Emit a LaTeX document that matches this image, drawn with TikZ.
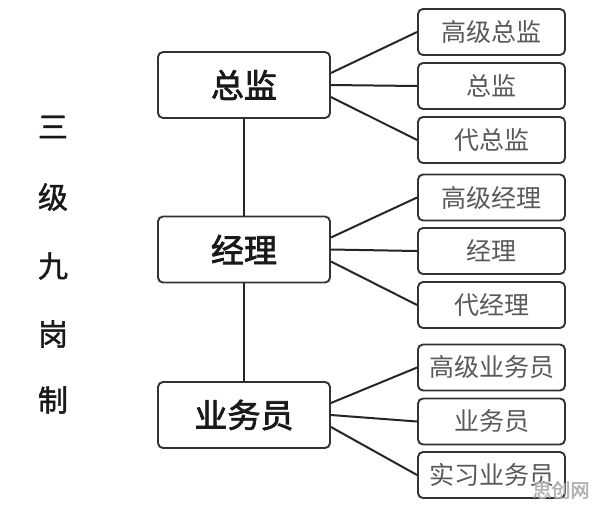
\documentclass[tikz,border=0pt]{standalone}
\usepackage{fontspec}
\newfontfamily\cjk{Noto Sans CJK SC}
\newfontfamily\cjkheavy[FakeBold=2.2]{Noto Sans CJK SC}
\newfontfamily\cjkmed[FakeBold=1.4]{Noto Sans CJK SC}
\begin{document}
\begin{tikzpicture}[x=1pt,y=-1pt,
  mainbox/.style={draw=black!80,line width=1.9pt,rounded corners=5pt,minimum width=172pt,minimum height=66pt,inner sep=0pt,font=\cjkheavy\fontsize{33}{36}\selectfont,text=black!90},
  subbox/.style={draw=black!80,line width=1.9pt,rounded corners=5pt,minimum width=147pt,minimum height=46pt,inner sep=0pt,text=black!65,font=\cjk\fontsize{25}{28}\selectfont},
  link/.style={line width=2pt,black!85},
  sidechar/.style={font=\cjkmed\fontsize{30}{32}\selectfont,text=black!90}]
\useasboundingbox (0,0) rectangle (596,507);
\fill[white] (0,0) rectangle (596,507);
% side title
\node[sidechar] (t1) at (53,127) {三};
\node[sidechar] (t2) at (53,197) {级};
\node[sidechar] (t3) at (53,266) {九};
\node[sidechar] (t4) at (53,334) {岗};
\node[sidechar] (t5) at (53,400) {制};
% main boxes
\node[mainbox] (m1) at (244,85) {总监};
\node[mainbox] (m2) at (244,249.5) {经理};
\node[mainbox] (m3) at (244,415) {业务员};
% sub boxes
\node[subbox] (a1) at (491.5,32) {高级总监};
\node[subbox] (a2) at (491.5,86) {总监};
\node[subbox] (a3) at (491.5,140) {代总监};
\node[subbox] (b1) at (491.5,197.5) {高级经理};
\node[subbox] (b2) at (491.5,251) {经理};
\node[subbox] (b3) at (491.5,305) {代经理};
\node[subbox] (c1) at (491.5,367.5) {高级业务员};
\node[subbox] (c2) at (491.5,421.5) {业务员};
\node[subbox] (c3) at (491.5,475) {实习业务员};
% vertical spine
\draw[link] (m1.south) -- (m2.north);
\draw[link] (m2.south) -- (m3.north);
% fans
\foreach \m/\a/\b/\c in {m1/a1/a2/a3, m2/b1/b2/b3, m3/c1/c2/c3}{
  \draw[link] ([yshift=12pt]\m.east) -- (\a.west);
  \draw[link] (\m.east) -- (\b.west);
  \draw[link] ([yshift=-12pt]\m.east) -- (\c.west);
}
% watermark
\node[font=\cjkheavy\fontsize{19}{20}\selectfont,text=black!30] (wm) at (561,490) {思创网};
\end{tikzpicture}
\end{document}
